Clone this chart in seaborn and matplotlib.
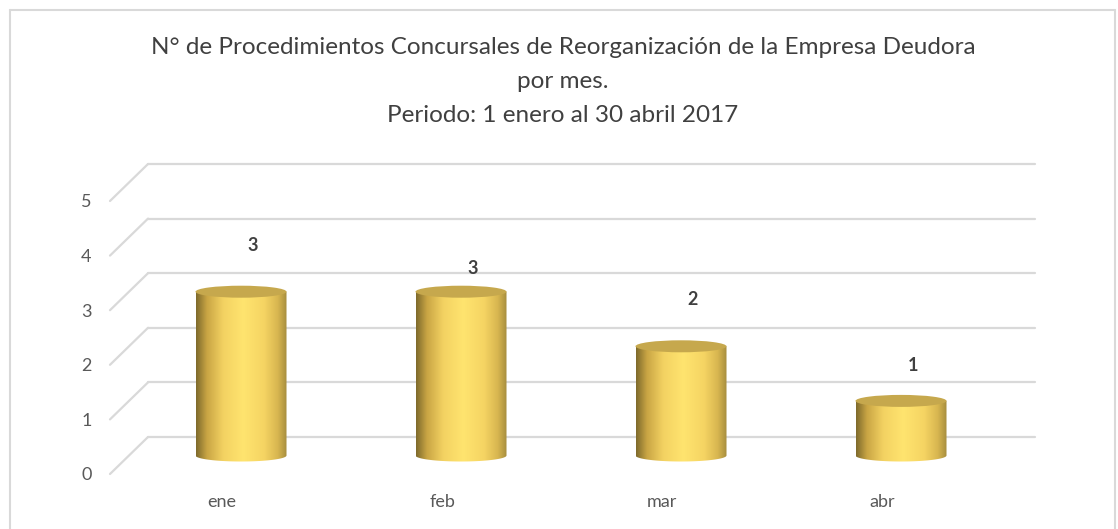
import numpy as np
import pandas as pd
import matplotlib
matplotlib.use("Agg")
import matplotlib.pyplot as plt
import seaborn as sns
from matplotlib.patches import Ellipse, Polygon
from matplotlib.colors import LinearSegmentedColormap
from matplotlib.lines import Line2D

# datos
meses = ["ene", "feb", "mar", "abr"]
procedimientos = [3, 3, 2, 1]
ticks_y = [0, 1, 2, 3, 4, 5]
titulo = ["N° de Procedimientos Concursales de Reorganización de la Empresa Deudora",
          "por mes.",
          "Periodo: 1 enero al 30 abril 2017"]

sns.set_theme(style="white")
plt.rcParams["font.family"] = ["Lato", "DejaVu Sans"]

W, H = 1118, 529
fig = plt.figure(figsize=(W / 100, H / 100), dpi=100)

# ejes en coordenadas del plano medio del cilindro
x0_px, x1_px, ytop_px, ybot_px = 100, 1040, 150, 490
cx0, sx = 241, 220.0      # centro de "ene" y px por categoria
cy0, sy = 455.5, 54.6     # base y px por unidad
ax = fig.add_axes([x0_px / W, 1 - ybot_px / H, (x1_px - x0_px) / W, (ybot_px - ytop_px) / H])

df = pd.DataFrame({"mes": meses, "n": procedimientos})
sns.barplot(data=df, x="mes", y="n", width=91 / sx, color="#E8C457", ax=ax, zorder=3)

ax.set_xlim((x0_px - cx0) / sx, (x1_px - cx0) / sx)
ax.set_ylim((cy0 - ybot_px) / sy, (cy0 - ytop_px) / sy)

dx = 19 / sx     # profundidad
dy = 18.5 / sy
gris = "#D9D9D9"

# pared del fondo y lineas diagonales
xl_front = (110 - cx0) / sx
xl_back = (148 - cx0) / sx
xr_back = (1035 - cx0) / sx
for v in ticks_y:
    ax.plot([xl_back, xr_back], [v + dy, v + dy], color=gris, lw=1.6, zorder=1)
    ax.plot([xl_front, xl_back], [v - dy, v + dy], color=gris, lw=1.6, zorder=1)

# cilindros con degradado
cmap = LinearSegmentedColormap.from_list("oro", [
    (0.0, "#7E6A2C"), (0.12, "#C9A544"), (0.3, "#F3D262"),
    (0.52, "#FFE46F"), (0.75, "#F5D463"), (0.9, "#D8B650"), (1.0, "#A68D3E")])
grad = np.linspace(0, 1, 256).reshape(1, -1)
eh = 12 / sy
t = np.linspace(0, -np.pi, 60)
for p in list(ax.patches):
    bx, bw, bh = p.get_x(), p.get_width(), p.get_height()
    cx = bx + bw / 2
    p.set_visible(False)
    verts = [(bx, bh), (bx + bw, bh)] + [(cx + bw / 2 * np.cos(a), eh / 2 * np.sin(a)) for a in t]
    cuerpo = Polygon(verts, closed=True, facecolor="none", edgecolor="none")
    ax.add_patch(cuerpo)
    im = ax.imshow(grad, cmap=cmap, aspect="auto", extent=(bx, bx + bw, -eh, bh), zorder=3)
    im.set_clip_path(cuerpo)
    ax.add_patch(Ellipse((cx, bh), bw, eh, facecolor="#C6A84D", edgecolor="none", zorder=4))

# etiquetas de datos
label_dy = [0.85, 0.42, 0.85, 0.64]
for i, v in enumerate(procedimientos):
    ax.text(i + 12 / sx, v + label_dy[i], str(v), ha="center", va="center",
            fontsize=13, fontweight="bold", color="#404040", zorder=5)

# ejes
ax.set_yticks([v - dy for v in ticks_y], [str(v) for v in ticks_y])
ax.set_xticks([i - dx for i in range(len(meses))], meses)
ax.tick_params(axis="y", length=0, pad=6, labelsize=13, labelcolor="#595959")
ax.tick_params(axis="x", length=0, pad=3, labelsize=13, labelcolor="#595959")
ax.set_xlabel("")
ax.set_ylabel("")
for s in ax.spines.values():
    s.set_visible(False)
ax.set_facecolor("none")

# titulo
for txt, ypx in zip(titulo, [47, 82, 115]):
    fig.text(563 / W, 1 - ypx / H, txt, ha="center", va="center", fontsize=17.5, color="#404040")

# borde del grafico
for xs, ys in [([10, 10], [10, H]), ([10, 1115], [10, 10]), ([1115, 1115], [10, H])]:
    fig.add_artist(Line2D([x / W for x in xs], [1 - y / H for y in ys], color=gris, lw=1.5))

fig.savefig("out.png", dpi=100)
